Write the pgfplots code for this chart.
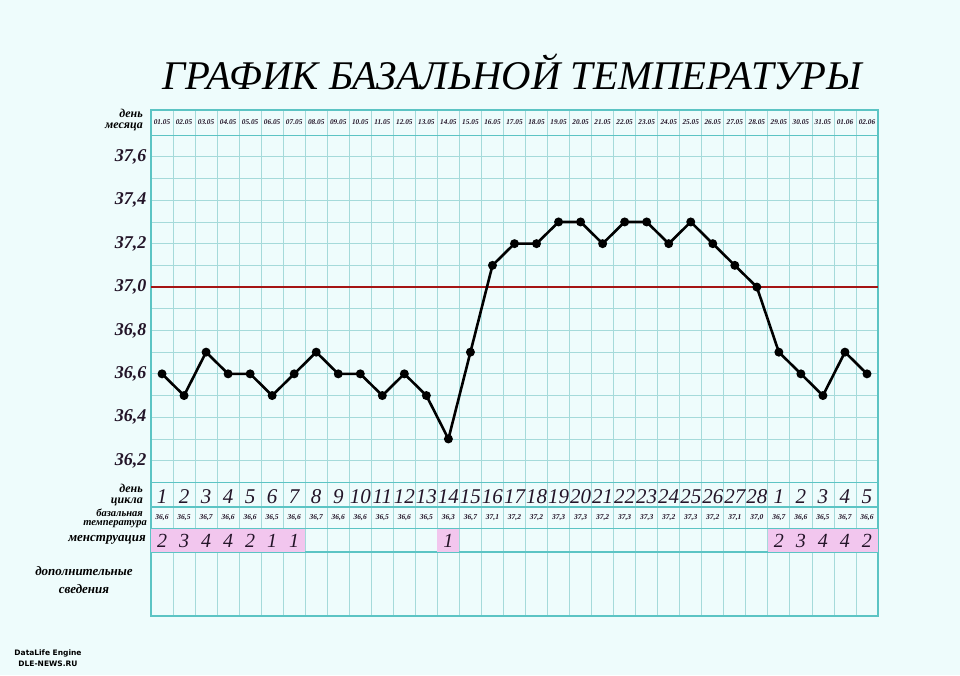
\documentclass[border=0pt]{standalone}
\usepackage{pgfplots}
\pgfplotsset{compat=1.18}
\usepackage{fontspec}
\setmainfont{Liberation Serif}
\newfontfamily\wmfont{DejaVu Sans}
\definecolor{bg}{RGB}{238,252,252}
\definecolor{gridc}{RGB}{165,218,218}
\definecolor{framec}{RGB}{92,196,196}
\definecolor{redline}{RGB}{165,20,20}
\definecolor{pinkc}{RGB}{242,198,238}
\definecolor{numc}{RGB}{35,20,40}
\begin{document}
\begin{tikzpicture}[x=1pt,y=1pt]
\fill[bg] (0,0) rectangle (960,675);
\begin{axis}[
  at={(151pt,59pt)}, anchor=south west, scale only axis,
  width=727pt, height=506pt,
  xmin=0, xmax=33, ymin=35.484, ymax=37.816,
  axis line style={draw=framec, line width=1.3pt},
  xtick={0,...,33}, xticklabels={},
  ytick={36.2,36.4,36.6,36.8,37.0,37.2,37.4,37.6},
  yticklabels={{36,2},{36,4},{36,6},{36,8},{37,0},{37,2},{37,4},{37,6}},
  minor ytick={36.3,36.5,36.7,36.9,37.1,37.3,37.5},
  tick style={draw=none},
  grid=both,
  major grid style={draw=gridc, line width=0.8pt},
  minor grid style={draw=gridc, line width=0.8pt},
  extra y ticks={37.7,36.1,35.986,35.889,35.779},
  extra y tick labels={},
  extra y tick style={major grid style={draw=framec, line width=1.2pt}},
  yticklabel style={font=\fontsize{18}{18}\selectfont\bfseries\itshape, text=numc, xshift=-1pt},
  clip=false,
]
\addplot[fill=pinkc, draw=none] coordinates {(0,35.781) (7,35.781) (7,35.887) (0,35.887)} -- cycle;
\addplot[fill=pinkc, draw=none] coordinates {(13,35.781) (14,35.781) (14,35.887) (13,35.887)} -- cycle;
\addplot[fill=pinkc, draw=none] coordinates {(28,35.781) (33,35.781) (33,35.887) (28,35.887)} -- cycle;
\addplot[redline, line width=1.5pt] coordinates {(0,37.0) (33,37.0)};
\addplot[black, line width=2.6pt, mark=*, mark size=3.1pt, mark options={fill=black}] table {
x y
0.5 36.6
1.5 36.5
2.5 36.7
3.5 36.6
4.5 36.6
5.5 36.5
6.5 36.6
7.5 36.7
8.5 36.6
9.5 36.6
10.5 36.5
11.5 36.6
12.5 36.5
13.5 36.3
14.5 36.7
15.5 37.1
16.5 37.2
17.5 37.2
18.5 37.3
19.5 37.3
20.5 37.2
21.5 37.3
22.5 37.3
23.5 37.2
24.5 37.3
25.5 37.2
26.5 37.1
27.5 37.0
28.5 36.7
29.5 36.6
30.5 36.5
31.5 36.7
32.5 36.6
};
\end{axis}
% title
\node[anchor=base, inner sep=0pt] at (512,585) {\resizebox{699pt}{!}{\fontsize{44}{44}\selectfont\itshape ГРАФИК БАЗАЛЬНОЙ ТЕМПЕРАТУРЫ}};
% dates
\foreach \d [count=\i] in {01.05,02.05,03.05,04.05,05.05,06.05,07.05,08.05,09.05,10.05,11.05,12.05,13.05,14.05,15.05,16.05,17.05,18.05,19.05,20.05,21.05,22.05,23.05,24.05,25.05,26.05,27.05,28.05,29.05,30.05,31.05,01.06,02.06}
  \node[font=\fontsize{7.3}{7.3}\selectfont\bfseries\itshape, text=numc, inner sep=0pt] at ({151+(\i-0.5)*22.0303}, 553) {\d};
% cycle days
\foreach \d [count=\i] in {1,2,3,4,5,6,7,8,9,10,11,12,13,14,15,16,17,18,19,20,21,22,23,24,25,26,27,28,1,2,3,4,5}
  \node[font=\fontsize{21}{21}\selectfont\itshape, text=numc, inner sep=0pt] at ({151+(\i-0.5)*22.0303}, 178) {\d};
% temperatures
\foreach \d [count=\i] in {{36,6},{36,5},{36,7},{36,6},{36,6},{36,5},{36,6},{36,7},{36,6},{36,6},{36,5},{36,6},{36,5},{36,3},{36,7},{37,1},{37,2},{37,2},{37,3},{37,3},{37,2},{37,3},{37,3},{37,2},{37,3},{37,2},{37,1},{37,0},{36,7},{36,6},{36,5},{36,7},{36,6}}
  \node[font=\fontsize{7.5}{7.5}\selectfont\bfseries\itshape, text=numc, inner sep=0pt] at ({151+(\i-0.5)*22.0303}, 157) {\d};
% menstruation
\foreach \i/\d in {1/2,2/3,3/4,4/4,5/2,6/1,7/1,14/1,29/2,30/3,31/4,32/4,33/2}
  \node[font=\fontsize{20}{20}\selectfont\itshape, text=numc, inner sep=0pt] at ({151+(\i-0.5)*22.0303}, 134) {\d};
% left labels
\node[anchor=east, align=right, font=\fontsize{12}{10.5}\selectfont\bfseries\itshape, inner sep=0pt] at (143,555) {день\\месяца};
\node[anchor=east, align=right, font=\fontsize{12}{10.5}\selectfont\bfseries\itshape, inner sep=0pt] at (143,180) {день\\цикла};
\node[anchor=base east, font=\fontsize{10.5}{10.5}\selectfont\bfseries\itshape, inner sep=0pt] at (143,159) {базальная};
\node[anchor=base east, font=\fontsize{10.5}{10.5}\selectfont\bfseries\itshape, inner sep=0pt] at (147,150) {температура};
\node[anchor=east, font=\fontsize{13}{13}\selectfont\bfseries\itshape, inner sep=0pt] at (146,135) {менструация};
\node[align=center, font=\fontsize{13}{18}\selectfont\bfseries\itshape, inner sep=0pt] at (84,95) {дополнительные\\сведения};
% watermark
\node[align=center, font=\fontsize{7.5}{10.5}\selectfont\wmfont\bfseries, inner sep=0pt] at (48,17) {DataLife Engine\\DLE-NEWS.RU};
\end{tikzpicture}
\end{document}
